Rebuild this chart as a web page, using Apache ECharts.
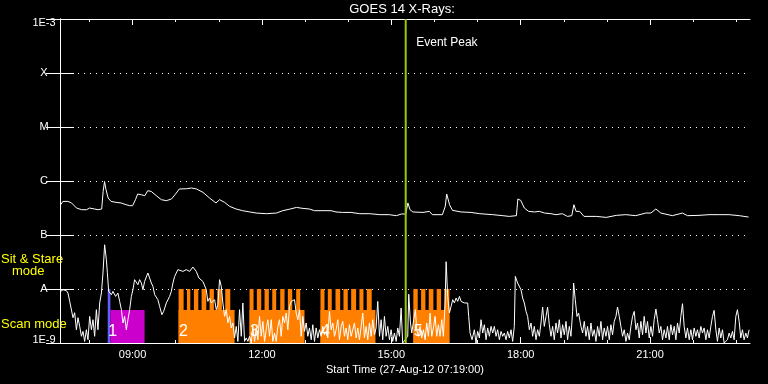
<!DOCTYPE html>
<html><head><meta charset="utf-8">
<script src="https://cdn.jsdelivr.net/npm/echarts@6/dist/echarts.min.js"></script>
<style>html,body{margin:0;padding:0;background:#000}#c{width:768px;height:384px}</style>
</head><body><div id="c"></div>
<script>
// ---------- data ----------
const startTime = '07:19';           // Start Time (27-Aug-12 07:19:00)
const spanMinutes = 960;             // plotted span, minutes after start
const yTickLabels = ['1E-9', 'A', 'B', 'C', 'M', 'X', '1E-3'];
const majorTickLabels = ['09:00', '12:00', '15:00', '18:00', '21:00'];
const hourTickLabels = ['08:00','09:00','10:00','11:00','12:00','13:00','14:00','15:00','16:00','17:00','18:00','19:00','20:00','21:00','22:00','23:00'];

// long channel (1-8 A), [minutes after start, W/m^2]
const longChannel = [
[1,3.64e-7],[4,4.19e-7],[11,4.19e-7],[16,3.92e-7],[23,3.16e-7],[30,2.94e-7],[37,2.94e-7],[41,3.16e-7],[48,3.03e-7],[53,2.94e-7],
[58,3.03e-7],[60,6.41e-7],[62,9.8e-7],[64,6.9e-7],[67,4.84e-7],[71,4.19e-7],[78,4.02e-7],[85,3.92e-7],[92,3.64e-7],[97,3.49e-7],
[101,3.49e-7],[105,4.51e-7],[108,5.74e-7],[113,5.57e-7],[118,5.34e-7],[122,6.61e-7],[127,6.41e-7],[134,5.34e-7],[141,4.51e-7],[148,4.32e-7],
[155,4.64e-7],[160,5.57e-7],[166,7.11e-7],[176,7.2e-7],[183,7.42e-7],[190,7.11e-7],[199,6.15e-7],[208,4.84e-7],[217,3.92e-7],[222,4.51e-7],
[224,4.84e-7],[229,4.02e-7],[236,3.39e-7],[245,3.03e-7],[254,2.82e-7],[264,2.67e-7],[273,2.55e-7],[287,2.48e-7],[301,2.55e-7],[310,2.82e-7],
[319,3.0e-7],[329,3.24e-7],[338,3.11e-7],[347,3.03e-7],[354,2.82e-7],[366,2.82e-7],[377,2.82e-7],[384,2.67e-7],[393,2.62e-7],[405,2.62e-7],
[417,2.48e-7],[431,2.48e-7],[445,2.38e-7],[458,2.38e-7],[468,2.28e-7],[475,2.45e-7],[481,2.45e-7],[484,3.92e-7],[487,2.94e-7],[491,2.67e-7],
[505,2.62e-7],[514,2.74e-7],[518,2.38e-7],[532,2.38e-7],[536,3.39e-7],[538,5.74e-7],[542,3.64e-7],[546,2.86e-7],[558,2.67e-7],[572,2.62e-7],
[584,2.48e-7],[602,2.38e-7],[616,2.28e-7],[625,2.21e-7],[635,2.28e-7],[637,4.64e-7],[641,4.38e-7],[646,3.16e-7],[652,2.74e-7],[660,2.67e-7],
[667,2.74e-7],[674,2.55e-7],[683,2.48e-7],[690,2.38e-7],[699,2.48e-7],[706,2.21e-7],[712,2.28e-7],[715,3.64e-7],[718,2.74e-7],[723,2.74e-7],
[729,2.21e-7],[746,2.21e-7],[760,2.12e-7],[774,2.31e-7],[787,2.38e-7],[801,2.28e-7],[815,2.55e-7],[822,2.55e-7],[829,3.03e-7],[836,2.55e-7],
[852,2.28e-7],[866,2.55e-7],[873,2.28e-7],[889,2.31e-7],[903,2.38e-7],[917,2.38e-7],[931,2.38e-7],[945,2.28e-7],[958,2.15e-7]
];

// short channel (0.5-4 A), [minutes after start, W/m^2]
const shortChannel = [
[1.0,9.03e-9],[4.2,9.7e-9],[8.9,9.3e-9],[11.1,8.43e-9],[13.5,5.89e-9],[15.8,6.34e-9],[18.1,2.94e-9],[20.4,3.64e-9],[22.8,1.76e-9],[25.0,2.94e-9],
[27.4,2.03e-9],[29.8,1.33e-9],[32.0,1.64e-9],[34.3,1.07e-9],[36.7,1.76e-9],[38.9,1.15e-9],[41.3,3.11e-9],[43.7,1.76e-9],[45.9,2.7e-9],[48.2,1.33e-9],
[50.6,4.14e-9],[52.8,1.76e-9],[55.2,5.51e-9],[57.6,8.43e-9],[59.8,1.98e-8],[62.1,6.6e-8],[64.5,3.49e-8],[65.9,2.0e-8],[67.7,9.03e-9],[71.5,7.84e-9],
[73.7,9.03e-9],[77.4,7.29e-9],[80.6,8.43e-9],[83.0,5.89e-9],[85.4,4.14e-9],[87.6,2.35e-9],[89.9,3.11e-9],[92.3,1.76e-9],[94.5,2.7e-9],[96.9,4.14e-9],
[99.3,7.29e-9],[101.5,9.7e-9],[103.8,1.49e-8],[106.2,1.49e-8],[108.4,1.2e-8],[110.8,1.49e-8],[113.2,1.29e-8],[115.4,9.7e-9],[117.7,1.38e-8],[122.3,1.98e-8],
[124.7,1.84e-8],[127.1,1.29e-8],[129.3,1.12e-8],[131.7,7.84e-9],[134.0,7.29e-9],[136.2,6.34e-9],[138.6,4.76e-9],[141.8,3.34e-9],[144.2,3.85e-9],[147.9,5.51e-9],
[150.1,5.89e-9],[152.5,7.29e-9],[154.9,9.03e-9],[157.1,1.29e-8],[159.5,1.71e-8],[164.0,2.28e-8],[166.4,2.12e-8],[171.0,2.12e-8],[175.7,2.28e-8],[180.3,2.12e-8],
[184.9,2.55e-8],[189.6,2.12e-8],[193.2,1.6e-8],[198.8,1.38e-8],[203.5,9.7e-9],[205.7,5.89e-9],[208.1,6.81e-9],[210.5,5.51e-9],[215.1,6.34e-9],[217.4,4.14e-9],
[219.7,5.12e-9],[222.0,1.49e-8],[224.4,1.12e-8],[226.6,5.51e-9],[229.0,3.11e-9],[231.3,4.14e-9],[233.6,2.35e-9],[235.9,3.11e-9],[238.3,1.9e-9],[240.5,2.35e-9],
[242.9,1.24e-9],[245.2,2.03e-9],[247.5,1.07e-9],[249.8,4.14e-9],[252.2,1.33e-9],[254.4,5.51e-9],[256.8,1.07e-9],[259.1,1.24e-9],[261.4,1.07e-9],[263.7,1.33e-9],
[266.1,1.0e-9],[268.3,2.03e-9],[270.7,1.07e-9],[273.0,1.9e-9],[275.3,1.15e-9],[277.6,3.11e-9],[280.0,1.33e-9],[282.2,2.51e-9],[284.6,1.07e-9],[286.9,1.76e-9],
[289.2,2.7e-9],[291.5,1.33e-9],[293.9,2.7e-9],[296.1,1.07e-9],[298.5,1.53e-9],[300.8,1.07e-9],[303.1,2.03e-9],[305.4,2.7e-9],[307.8,1.33e-9],[310.0,3.11e-9],
[312.4,2.35e-9],[314.7,3.59e-9],[317.0,1.76e-9],[319.3,4.76e-9],[321.7,5.89e-9],[323.9,5.51e-9],[326.3,6.34e-9],[328.6,3.59e-9],[330.9,2.7e-9],[333.2,4.14e-9],
[335.6,1.33e-9],[337.8,3.11e-9],[340.2,1.64e-9],[342.5,2.35e-9],[344.8,1.33e-9],[347.1,1.9e-9],[349.5,1.15e-9],[351.7,2.18e-9],[354.1,1.07e-9],[356.4,1.9e-9],
[358.7,1.24e-9],[361.0,1.76e-9],[363.4,1.33e-9],[365.6,2.03e-9],[368.0,1.42e-9],[370.3,1.64e-9],[372.6,1.24e-9],[374.9,3.85e-9],[377.3,1.76e-9],[379.5,2.35e-9],
[381.9,1.33e-9],[384.2,1.76e-9],[386.5,2.7e-9],[388.8,1.15e-9],[391.2,2.03e-9],[393.4,2.51e-9],[395.8,1.33e-9],[398.1,1.9e-9],[400.4,1.15e-9],[402.7,2.18e-9],
[405.1,1.33e-9],[407.3,1.76e-9],[409.7,2.35e-9],[412.0,1.24e-9],[414.3,1.9e-9],[416.6,1.15e-9],[419.0,2.03e-9],[421.2,3.59e-9],[423.6,1.24e-9],[425.9,2.03e-9],
[428.2,1.15e-9],[430.5,2.35e-9],[432.9,1.33e-9],[435.1,2.7e-9],[437.5,1.42e-9],[439.8,1.9e-9],[442.1,5.89e-9],[444.5,1.33e-9],[446.8,2.7e-9],[449.0,1.15e-9],
[451.4,3.11e-9],[453.7,1.33e-9],[456.0,2.03e-9],[458.4,1.15e-9],[460.7,1.76e-9],[462.9,1.07e-9],[465.3,1.53e-9],[467.7,1.07e-9],[469.9,1.9e-9],[472.3,1.33e-9],
[474.6,4.45e-9],[476.8,1.0e-9],[479.2,1.0e-9],[483.8,1.33e-9],[485.2,8.0e-9],[487.6,2.35e-9],[489.4,1.53e-9],[492.1,2.7e-9],[494.5,4.14e-9],[496.3,1.76e-9],
[498.7,1.33e-9],[501.0,2.03e-9],[503.3,1.24e-9],[505.6,1.76e-9],[508.0,1.15e-9],[510.2,2.35e-9],[512.6,1.33e-9],[514.9,3.59e-9],[517.2,1.33e-9],[519.5,1.9e-9],
[521.9,3.11e-9],[524.1,1.33e-9],[526.5,2.18e-9],[528.8,1.33e-9],[531.1,2.7e-9],[533.4,1.33e-9],[535.8,5.51e-9],[537.2,3.2e-8],[539.4,7.29e-9],[541.8,3.59e-9],
[544.1,4.76e-9],[546.4,6.34e-9],[548.7,5.51e-9],[551.1,6.81e-9],[553.3,5.89e-9],[555.7,7.29e-9],[558.0,5.89e-9],[560.3,6.34e-9],[562.6,5.51e-9],[565.0,5.89e-9],
[567.2,5.51e-9],[568.6,3.11e-9],[570.5,1.53e-9],[573.3,1.15e-9],[576.5,1.76e-9],[578.8,1.0e-9],[581.1,1.64e-9],[583.5,1.24e-9],[585.8,2.7e-9],[588.1,1.53e-9],
[590.4,2.18e-9],[592.8,1.15e-9],[595.0,1.9e-9],[597.4,1.33e-9],[599.7,2.03e-9],[602.0,1.53e-9],[604.3,2.03e-9],[606.7,1.33e-9],[608.9,1.76e-9],[611.3,1.15e-9],
[613.6,1.64e-9],[615.9,1.33e-9],[618.2,1.53e-9],[620.6,1.15e-9],[622.8,1.64e-9],[625.2,1.24e-9],[627.5,1.76e-9],[629.8,1.07e-9],[632.1,2.03e-9],[633.5,1.71e-8],
[635.3,1.84e-8],[636.7,1.29e-8],[639.1,1.38e-8],[641.4,9.7e-9],[643.7,6.81e-9],[646.0,5.51e-9],[648.4,3.85e-9],[650.6,3.11e-9],[653.0,1.76e-9],[655.3,2.35e-9],
[657.6,1.33e-9],[659.9,2.03e-9],[662.3,1.15e-9],[664.5,1.76e-9],[666.9,1.33e-9],[669.2,2.35e-9],[671.5,4.64e-9],[673.8,2.03e-9],[676.2,3.11e-9],[678.4,4.64e-9],
[680.8,2.18e-9],[683.1,1.33e-9],[685.4,2.03e-9],[687.7,1.15e-9],[690.1,2.35e-9],[692.3,1.53e-9],[694.7,2.7e-9],[697.0,1.24e-9],[699.3,2.18e-9],[701.6,1.42e-9],
[704.0,2.51e-9],[706.2,1.15e-9],[708.6,2.03e-9],[710.9,1.33e-9],[713.2,3.85e-9],[714.6,1.29e-8],[716.9,6.34e-9],[719.3,3.11e-9],[721.5,3.59e-9],[724.8,2.03e-9],
[727.1,1.53e-9],[729.4,2.51e-9],[731.8,1.33e-9],[734.0,2.03e-9],[736.4,1.15e-9],[738.7,2.35e-9],[741.0,1.33e-9],[743.3,1.76e-9],[745.7,1.07e-9],[747.9,2.03e-9],
[750.3,1.33e-9],[752.6,2.51e-9],[754.9,1.15e-9],[757.2,1.9e-9],[759.6,1.33e-9],[761.8,2.03e-9],[764.2,1.15e-9],[766.5,2.18e-9],[768.8,1.42e-9],[771.1,2.51e-9],
[773.5,3.11e-9],[775.7,4.64e-9],[778.1,3.11e-9],[780.4,2.03e-9],[782.7,1.33e-9],[785.0,1.76e-9],[787.4,1.07e-9],[789.6,1.53e-9],[792.0,1.15e-9],[794.3,2.03e-9],
[796.6,3.11e-9],[798.9,3.85e-9],[801.3,1.76e-9],[803.5,2.35e-9],[805.9,1.24e-9],[808.2,2.51e-9],[810.5,1.42e-9],[812.8,3.11e-9],[815.2,1.53e-9],[817.4,2.51e-9],
[819.8,1.24e-9],[822.1,2.03e-9],[824.4,1.33e-9],[826.7,2.7e-9],[829.1,4.26e-9],[831.3,2.7e-9],[833.7,1.53e-9],[836.0,2.03e-9],[838.3,1.15e-9],[840.6,1.76e-9],
[843.0,1.24e-9],[845.2,2.03e-9],[847.6,1.15e-9],[849.9,2.18e-9],[852.2,1.42e-9],[854.5,2.03e-9],[856.9,1.15e-9],[859.1,2.35e-9],[861.5,1.53e-9],[863.8,3.11e-9],
[866.1,5.34e-9],[868.4,2.03e-9],[870.8,1.24e-9],[873.0,1.9e-9],[875.4,1.15e-9],[877.7,1.76e-9],[880.0,1.15e-9],[882.3,1.9e-9],[884.7,1.33e-9],[886.9,1.76e-9],
[889.3,1.24e-9],[891.6,2.03e-9],[893.9,1.53e-9],[896.2,1.9e-9],[898.6,1.15e-9],[900.8,1.76e-9],[903.2,1.24e-9],[905.5,2.03e-9],[907.8,3.11e-9],[910.1,4.02e-9],
[912.5,1.76e-9],[914.7,1.07e-9],[917.1,1.9e-9],[919.4,1.24e-9],[921.7,1.76e-9],[924.0,1.0e-9],[926.4,1.0e-9],[928.6,1.15e-9],[931.0,1.53e-9],[933.3,1.24e-9],
[935.6,1.64e-9],[937.9,1.15e-9],[940.3,3.11e-9],[942.5,4.14e-9],[944.9,2.51e-9],[947.2,1.24e-9],[949.5,1.76e-9],[951.8,1.15e-9],[954.2,1.53e-9],[956.4,1.24e-9],
[958.8,1.76e-9]
];

const eventPeakTime = '15:20';
const eventPeakLabel = 'Event Peak';

// observing-mode blocks, [start, end] in minutes after start
const blueBlocks = [[66.4, 70.1]];
const stareBlocks = [[70.1, 117.7]];
const scanBlocks = [[165.0, 242.9], [263.7, 340.2], [362.4, 438.9], [491.6, 541.8]];
const scanTeeth = [
[165.0,172.0],[176.6,181.3],[186.3,192.4],[197.0,203.5],[208.1,214.1],[218.8,225.2],[229.9,236.9],
[263.7,269.3],[273.9,280.0],[284.6,290.6],[295.3,300.8],[306.4,312.4],[317.0,323.1],[328.6,334.2],
[362.4,368.0],[372.6,378.1],[383.3,389.8],[394.4,400.4],[405.1,412.0],[416.6,422.2],[426.8,433.7],
[491.6,497.7],[502.4,508.4],[513.0,519.5],[524.1,530.2],[534.8,541.8]
];
const blockLabels = ['1', '2', '3', '4', '5'];
const blockLabelTimes = [66.4, 165.0, 263.7, 362.4, 491.6];
const floorLevel = 1e-9, lowLevel = 4.1e-9, highLevel = 1e-8, ceilLevel = 1e-3;

// ---------- helpers ----------
const toMin = s => { const p = s.split(':').map(Number); return p[0] * 60 + p[1]; };
const startMin = toMin(startTime);
const elapsed = s => toMin(s) - startMin;
const clock = m => { const t = ((Math.round(m) % 1440) + 1440) % 1440; return String(Math.floor(t / 60)).padStart(2, '0') + ':' + String(t % 60).padStart(2, '0'); };
const majorTicks = majorTickLabels.map(elapsed);
const hourTicks = hourTickLabels.map(elapsed);
const FONT = 'Liberation Sans';
const modeColors = ['#6060ff', '#cc00cc', '#ff8000'];

const segs = [];
blueBlocks.forEach(b => segs.push([b[0], b[1], highLevel, 0]));
stareBlocks.forEach(b => segs.push([b[0], b[1], lowLevel, 1]));
scanBlocks.forEach(b => segs.push([b[0], b[1], lowLevel, 2]));
scanTeeth.forEach(b => segs.push([b[0], b[1], highLevel, 2]));

const xBase = { type: 'value', min: 0, max: spanMinutes, gridIndex: 0, splitLine: { show: false } };
const white = { color: '#fff', width: 1 };

const chart = echarts.init(document.getElementById('c'), null, { renderer: 'canvas' });
chart.setOption({
  backgroundColor: '#000',
  animation: false,
  grid: { left: 60, right: 18, top: 19, bottom: 41, containLabel: false, outerBoundsMode: 'none' },
  graphic: [
    { type: 'text', x: 402, y: 3, style: { text: 'GOES 14 X-Rays:', fill: '#fff', font: '13px "' + FONT + '"', align: 'center', verticalAlign: 'top' } },
    { type: 'text', x: 1, y: 259, style: { text: 'Sit & Stare', fill: '#ffff00', font: '13px "' + FONT + '"', align: 'left', verticalAlign: 'middle' } },
    { type: 'text', x: 12, y: 271, style: { text: 'mode', fill: '#ffff00', font: '13px "' + FONT + '"', align: 'left', verticalAlign: 'middle' } },
    { type: 'text', x: 1, y: 324, style: { text: 'Scan mode', fill: '#ffff00', font: '13px "' + FONT + '"', align: 'left', verticalAlign: 'middle' } }
  ],
  xAxis: [
    Object.assign({}, xBase, {
      position: 'bottom',
      axisLine: { show: true, lineStyle: white },
      axisTick: { show: true, inside: true, length: 6, lineStyle: white, customValues: majorTicks },
      axisLabel: { show: true, customValues: majorTicks, color: '#fff', fontSize: 11, fontFamily: FONT, margin: 6,
        formatter: v => clock(startMin + v) },
      name: 'Start Time (27-Aug-12 07:19:00)', nameLocation: 'middle', nameGap: 20,
      nameTextStyle: { color: '#fff', fontSize: 11, fontFamily: FONT }
    }),
    Object.assign({}, xBase, {
      position: 'bottom',
      axisLine: { show: false },
      axisTick: { show: true, inside: true, length: 3, lineStyle: white, customValues: hourTicks },
      axisLabel: { show: false }
    }),
    Object.assign({}, xBase, {
      position: 'top',
      axisLine: { show: true, lineStyle: white },
      axisTick: { show: true, inside: true, length: 6, lineStyle: white, customValues: majorTicks },
      axisLabel: { show: false }
    }),
    Object.assign({}, xBase, {
      position: 'top',
      axisLine: { show: false },
      axisTick: { show: true, inside: true, length: 3, lineStyle: white, customValues: hourTicks },
      axisLabel: { show: false }
    })
  ],
  yAxis: [
    {
      type: 'log', logBase: 10, min: floorLevel, max: ceilLevel, position: 'left',
      axisLine: { show: true, lineStyle: white },
      axisTick: { show: true, inside: true, length: 14, lineStyle: white },
      minorTick: { show: false },
      splitLine: { show: true, lineStyle: { color: '#fff', width: 1, type: [1, 5] } },
      axisLabel: {
        color: '#fff', fontSize: 11, fontFamily: FONT, align: 'center', margin: 16,
        formatter: v => {
          const i = Math.round(Math.log10(v)) + 9;
          const t = yTickLabels[i];
          if (i === yTickLabels.length - 1) return '{t|' + t + '}';
          if (i === 0) return '{b|' + t + '}';
          return t;
        },
        rich: {
          t: { padding: [8, 0, 0, 0], color: '#fff', fontSize: 11, fontFamily: FONT },
          b: { padding: [0, 0, 6, 0], color: '#fff', fontSize: 11, fontFamily: FONT }
        }
      }
    },
    {
      type: 'log', logBase: 10, min: floorLevel, max: ceilLevel, position: 'right',
      axisLine: { show: true, lineStyle: white },
      axisTick: { show: true, inside: true, length: 14, lineStyle: white },
      splitLine: { show: false },
      axisLabel: { show: false }
    }
  ],
  series: [
    {
      type: 'custom', name: 'modes', xAxisIndex: 0, yAxisIndex: 0, z: 1, silent: true,
      encode: { x: [0, 1], y: [2] },
      data: segs,
      renderItem: (params, api) => {
        const p0 = api.coord([api.value(0), api.value(2)]);
        const p1 = api.coord([api.value(1), floorLevel]);
        return { type: 'rect', shape: { x: p0[0], y: p0[1], width: p1[0] - p0[0], height: p1[1] - p0[1] },
          style: { fill: modeColors[api.value(3)] } };
      }
    },
    {
      type: 'custom', name: 'blockLabels', xAxisIndex: 0, yAxisIndex: 0, z: 2, silent: true,
      encode: { x: 0 },
      data: blockLabelTimes.map((t, i) => [t, i]),
      renderItem: (params, api) => {
        const p = api.coord([api.value(0), floorLevel]);
        return { type: 'text', x: p[0] + 0.5, y: p[1] - 3,
          style: { text: blockLabels[api.value(1)], fill: '#fff', font: '16px "' + FONT + '"', align: 'left', verticalAlign: 'bottom' } };
      }
    },
    {
      type: 'line', name: 'long', data: longChannel, xAxisIndex: 0, yAxisIndex: 0, z: 3,
      showSymbol: false, symbol: 'none', clip: true, silent: true,
      lineStyle: { color: '#fff', width: 1 }
    },
    {
      type: 'line', name: 'short', data: shortChannel, xAxisIndex: 0, yAxisIndex: 0, z: 3,
      showSymbol: false, symbol: 'none', clip: true, silent: true,
      lineStyle: { color: '#fff', width: 1 }
    },
    {
      type: 'custom', name: 'eventPeak', xAxisIndex: 0, yAxisIndex: 0, z: 4, silent: true,
      encode: { x: 0 },
      data: [[elapsed(eventPeakTime)]],
      renderItem: (params, api) => {
        const top = api.coord([api.value(0), ceilLevel]);
        const bot = api.coord([api.value(0), floorLevel]);
        return { type: 'group', children: [
          { type: 'line', shape: { x1: top[0], y1: top[1], x2: bot[0], y2: bot[1] }, style: { stroke: '#99cc00', lineWidth: 2 } },
          { type: 'text', x: top[0] + 10.5, y: top[1] + 24,
            style: { text: eventPeakLabel, fill: '#fff', font: '12px "' + FONT + '"', align: 'left', verticalAlign: 'middle' } }
        ] };
      }
    }
  ]
});
</script>
</body></html>
